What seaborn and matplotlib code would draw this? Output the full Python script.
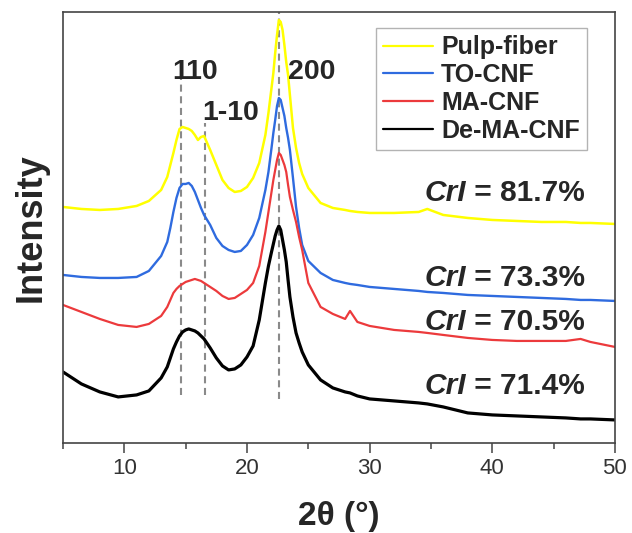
import numpy as np
import pandas as pd
import matplotlib
matplotlib.use("Agg")
import matplotlib.pyplot as plt
import seaborn as sns
from matplotlib.ticker import MultipleLocator

# ---- data (intensity in arbitrary units) ----
two_theta = [5, 6.5, 8, 9.5, 11, 12, 13, 13.5, 13.75, 14, 14.25, 14.5, 14.75, 15, 15.25,
             15.5, 15.75, 16, 16.25, 16.5, 17, 17.5, 18, 18.5, 19, 19.5, 20, 20.5, 21,
             21.5, 21.75, 22, 22.15, 22.3, 22.45, 22.6, 22.75, 22.9, 23.05, 23.2, 23.35,
             23.5, 23.75, 24, 24.25, 24.5, 25, 26, 27, 28, 28.4, 29, 30, 32, 34, 34.7, 36,
             38, 40, 42, 44, 46, 47.2, 48, 50]

pulp_fiber = [236, 234, 233, 234, 237, 242, 253, 266, 278, 290, 303, 314, 316, 315, 314,
              312, 308, 303, 306, 307, 293, 278, 263, 255, 251, 252, 256, 265, 280,
              308, 330, 355, 370, 390, 408, 423, 421, 413, 398, 381, 368,
              348, 315, 295, 280, 269, 255, 240, 235, 233, 232, 231, 230, 230, 231, 234, 228,
              225, 223, 222, 221, 221, 220, 220, 219]

to_cnf = [168, 166, 165, 165, 166, 172, 187, 201, 215, 231, 245, 255, 259, 259, 260,
          257, 251, 243, 235, 228, 218, 205, 197, 193, 191, 192, 198, 208, 225,
          253, 271, 295, 310, 323, 337, 345, 343, 335, 327, 315, 305,
          293, 265, 236, 215, 198, 182, 170, 163, 160, 159, 158, 156, 154, 152, 151, 150,
          148, 147, 146, 145, 144, 143, 143, 142]

ma_cnf = [138, 131, 124, 118, 116, 119, 127, 136, 143, 150, 154, 157, 159, 161, 162,
          163, 164, 163, 162, 160, 156, 152, 147, 144, 145, 149, 153, 160, 177,
          211, 231, 251, 263, 273, 283, 290, 288, 283, 278, 271, 258,
          246, 233, 221, 206, 193, 160, 136, 129, 124, 132, 121, 117, 113, 111, 110, 108,
          105, 103, 102, 102, 102, 104, 101, 96]

de_ma_cnf = [71, 59, 51, 46, 48, 52, 65, 76, 85, 94, 101, 107, 111, 113, 114,
             113, 112, 110, 107, 104, 95, 85, 77, 73, 74, 78, 86, 97, 123,
             160, 177, 191, 199, 207, 213, 217, 213, 203, 193, 181, 163,
             146, 126, 110, 100, 91, 78, 63, 55, 51, 50, 47, 44, 42, 40, 39, 36,
             30, 28, 27, 26, 25, 24, 24, 23]

sample_names = ["Pulp-fiber", "TO-CNF", "MA-CNF", "De-MA-CNF"]
crystallinity = ["81.7%", "73.3%", "70.5%", "71.4%"]
peak_labels = ["110", "1-10", "200"]
peak_positions = [14.6, 16.6, 22.65]
x_ticks = [10, 20, 30, 40, 50]

series = [pulp_fiber, to_cnf, ma_cnf, de_ma_cnf]
df = pd.concat([pd.DataFrame({"two_theta": two_theta, "intensity": s, "sample": n})
                for n, s in zip(sample_names, series)], ignore_index=True)

palette = {"Pulp-fiber": "#FFFF00", "TO-CNF": "#2F6BDF", "MA-CNF": "#EC3A3C", "De-MA-CNF": "#000000"}
widths = {"Pulp-fiber": 1.8, "TO-CNF": 1.7, "MA-CNF": 1.6, "De-MA-CNF": 2.3}

sns.set_theme(style="white")
plt.rcParams["font.family"] = ["Liberation Sans", "DejaVu Sans"]

fig, ax = plt.subplots(figsize=(6.32, 5.33), dpi=100)
fig.subplots_adjust(left=0.0997, right=0.973, bottom=0.169, top=0.9775)

for name in sample_names:
    sub = df[df["sample"] == name]
    sns.lineplot(data=sub, x="two_theta", y="intensity", color=palette[name],
                 linewidth=widths[name], label=name, estimator=None, sort=False, ax=ax)

ax.set_xlim(5, 50)
ax.set_ylim(0, 431)

# dashed reference lines
dash = (0, (3.4, 2.2))
ax.plot([peak_positions[0]] * 2, [48, 386], color="#8a8a8a", lw=1.5, ls=dash, zorder=1)
ax.plot([peak_positions[1]] * 2, [48, 320], color="#8a8a8a", lw=1.5, ls=dash, zorder=1)
ax.plot([peak_positions[2]] * 2, [44, 431], color="#8a8a8a", lw=1.5, ls=dash, zorder=1)

# peak labels
ax.text(15.8, 371, peak_labels[0], fontsize=20.5, fontweight="bold", ha="center", va="center")
ax.text(18.64, 330, peak_labels[1], fontsize=20.5, fontweight="bold", ha="center", va="center")
ax.text(25.3, 371, peak_labels[2], fontsize=20.5, fontweight="bold", ha="center", va="center")

# crystallinity labels
for yv, txt in zip([250, 165, 121, 57], crystallinity):
    t = ax.text(34.5, yv, "CrI", fontsize=21.5, fontweight="bold", style="italic",
                ha="left", va="center")
    ax.annotate(" = " + txt, xy=(1, 0), xycoords=t, fontsize=21.5, fontweight="bold",
                ha="left", va="bottom")

# axes styling
ax.set_xticks(x_ticks)
ax.xaxis.set_minor_locator(MultipleLocator(5))
ax.set_yticks([])
ax.tick_params(axis="x", which="major", direction="out", length=7, width=1.1,
               color="#444444", labelsize=16, pad=4, bottom=True, labelcolor="#333333")
ax.tick_params(axis="x", which="minor", direction="out", length=4, width=1.1,
               color="#444444", bottom=True)
for sp in ax.spines.values():
    sp.set_color("#444444")
    sp.set_linewidth(1.2)
    sp.set_visible(True)

ax.set_xlabel("2θ (°)", fontsize=24, fontweight="bold", labelpad=16)
ax.set_ylabel("Intensity", fontsize=26, fontweight="bold", labelpad=10)

leg = ax.legend(loc="upper left", bbox_to_anchor=(0.567, 0.963), borderaxespad=0,
                frameon=True, fancybox=False, edgecolor="#a0a0a0",
                handlelength=2.0, handletextpad=0.3, labelspacing=0.15, borderpad=0.3,
                prop={"weight": "bold", "size": 18})
leg.get_frame().set_linewidth(1.0)
for h in leg.get_lines():
    h.set_linewidth(1.6)

fig.savefig("out.png", dpi=100)
